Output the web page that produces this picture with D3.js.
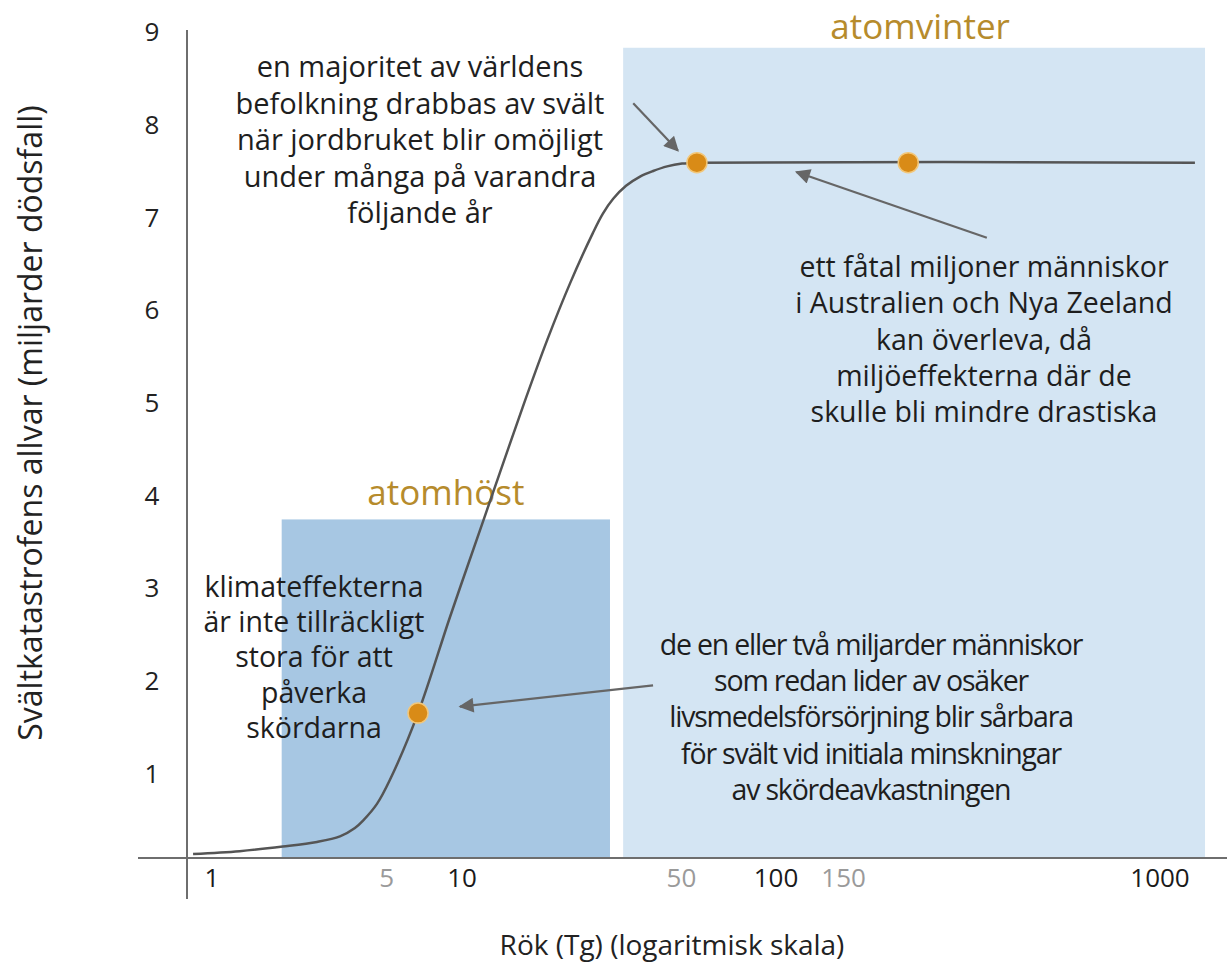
<!DOCTYPE html>
<meta charset="utf-8">
<style>
  body { margin: 0; background: #fff; }
  text { font-family: "Open Sans", "Noto Sans", sans-serif; }
</style>
<svg width="1227" height="964"></svg>
<script src="https://cdn.jsdelivr.net/npm/d3@7"></script>
<script>
  // curve: smoke (Tg) vs famine deaths (billions)
  var smoke  = [0.84, 1.29, 1.92, 2.63, 3.25, 3.73, 4.02, 4.57, 5.15, 6.67, 8.96, 11.7, 15.6, 18.7, 22.1, 26.1,
                28.1, 30.3, 33.3, 36.9, 40.6, 45.0, 50.2, 56.0, 1233];
  var deaths = [0.13, 0.16, 0.21, 0.26, 0.32, 0.41, 0.49, 0.67, 0.93, 1.65, 2.69, 3.73, 4.95, 5.68, 6.29, 6.83,
                7.04, 7.20, 7.34, 7.44, 7.50, 7.55, 7.58, 7.59, 7.59];
  // highlighted points
  var pointSmoke  = [6.67, 56, 221];
  var pointDeaths = [1.65, 7.59, 7.59];
  // shaded regions
  var regionNames = ["atomhöst", "atomvinter"];
  var regionFrom  = [1.9, 32.6];
  var regionTo    = [29.6, 1310];
  var regionTop   = [3.74, 8.83];
  // axis ticks
  var xTicks = [1, 5, 10, 50, 100, 150, 1000];
  var xTickMuted = [false, true, false, true, false, true, false];
  var yTicks = [1, 2, 3, 4, 5, 6, 7, 8, 9];
  // arrows: [fromSmoke, fromDeaths, toSmoke, toDeaths]
  var arrows = [
    [35.1, 8.23, 48.7, 7.72],
    [354, 6.78, 113, 7.49],
    [40.6, 1.95, 9.82, 1.72]
  ];

  var svg = d3.select("svg");
  var baseY = 858, axisX = 187;

  // the printed log axis is not evenly spaced per decade
  var xl = d3.scaleLinear().domain([0, 1, 2, 3]).range([212, 462, 776, 1160]);
  var x = function(v) { return xl(Math.log10(v)); };
  var y = d3.scaleLinear().domain([0, 9]).range([866, 32]);

  var regionFill = ["#a7c7e3", "#d4e5f3"];
  var titleGap = [14, 9];
  regionNames.forEach(function(n, i) {
    svg.append("rect")
      .attr("x", x(regionFrom[i]))
      .attr("y", y(regionTop[i]))
      .attr("width", x(regionTo[i]) - x(regionFrom[i]))
      .attr("height", baseY - y(regionTop[i]))
      .attr("fill", regionFill[i]);
    svg.append("text")
      .attr("x", (x(regionFrom[i]) + x(regionTo[i])) / 2 + (i == 0 ? 0 : 6))
      .attr("y", y(regionTop[i]) - titleGap[i])
      .attr("text-anchor", "middle")
      .attr("font-size", 35)
      .attr("fill", "#b68b2c")
      .text(n);
  });

  // axes
  svg.append("line").attr("x1", 138).attr("x2", 1227).attr("y1", baseY).attr("y2", baseY)
    .attr("stroke", "#6e6e6e").attr("stroke-width", 2);
  svg.append("line").attr("x1", axisX).attr("x2", axisX).attr("y1", 30).attr("y2", 899)
    .attr("stroke", "#6e6e6e").attr("stroke-width", 2);

  svg.selectAll(".yt").data(yTicks).enter().append("text")
    .attr("x", 152).attr("y", function(d) { return y(d); })
    .attr("dy", "0.36em").attr("text-anchor", "middle")
    .attr("font-size", 26).attr("fill", "#222")
    .text(function(d) { return d; });

  svg.selectAll(".xt").data(xTicks).enter().append("text")
    .attr("x", function(d) { return x(d); }).attr("y", 887)
    .attr("text-anchor", "middle").attr("font-size", 26)
    .attr("fill", function(d, i) { return xTickMuted[i] ? "#9a9a9a" : "#1a1a1a"; })
    .text(function(d) { return d; });

  svg.append("text").attr("x", 672).attr("y", 955).attr("text-anchor", "middle")
    .attr("font-size", 28).attr("fill", "#222").text("Rök (Tg) (logaritmisk skala)");
  svg.append("text").attr("transform", "translate(42,423) rotate(-90)")
    .attr("text-anchor", "middle").attr("font-size", 32).attr("fill", "#222")
    .text("Svältkatastrofens allvar (miljarder dödsfall)");

  // curve
  var line = d3.line().curve(d3.curveCatmullRom.alpha(0.5))
    .x(function(d, i) { return x(smoke[i]); })
    .y(function(d) { return y(d); });
  svg.append("path").datum(deaths).attr("d", line)
    .attr("fill", "none").attr("stroke", "#555").attr("stroke-width", 2.5);

  svg.selectAll(".pt").data(pointSmoke).enter().append("circle")
    .attr("cx", function(d) { return x(d); })
    .attr("cy", function(d, i) { return y(pointDeaths[i]); })
    .attr("r", 10).attr("fill", "#d98b17")
    .attr("stroke", "#f2c77a").attr("stroke-width", 1.5);

  // arrows
  svg.append("defs").append("marker").attr("id", "head")
    .attr("viewBox", "0 0 10 10").attr("refX", 9).attr("refY", 5)
    .attr("markerWidth", 19).attr("markerHeight", 15).attr("markerUnits", "userSpaceOnUse")
    .attr("orient", "auto")
    .append("path").attr("d", "M0,0L10,5L0,10z").attr("fill", "#666");
  arrows.forEach(function(a) {
    svg.append("line")
      .attr("x1", x(a[0])).attr("y1", y(a[1]))
      .attr("x2", x(a[2])).attr("y2", y(a[3]))
      .attr("stroke", "#666").attr("stroke-width", 2.2)
      .attr("marker-end", "url(#head)");
  });

  // annotation text blocks
  function block(cx, top, gap, lines, size, ls) {
    var t = svg.append("text").attr("text-anchor", "middle")
      .attr("font-size", size).attr("fill", "#1e1e1e")
      .attr("letter-spacing", ls || 0);
    lines.forEach(function(l, i) {
      t.append("tspan").attr("x", cx).attr("y", top + i * gap).text(l);
    });
  }
  block(420, 77, 36.5, ["en majoritet av världens", "befolkning drabbas av svält",
    "när jordbruket blir omöjligt", "under många på varandra", "följande år"], 29);
  block(984, 277, 36.3, ["ett fåtal miljoner människor", "i Australien och Nya Zeeland",
    "kan överleva, då", "miljöeffekterna där de", "skulle bli mindre drastiska"], 28.5);
  block(314, 597, 35.2, ["klimateffekterna", "är inte tillräckligt", "stora för att",
    "påverka", "skördarna"], 28.5);
  block(871, 655, 36.2, ["de en eller två miljarder människor", "som redan lider av osäker",
    "livsmedelsförsörjning blir sårbara", "för svält vid initiala minskningar",
    "av skördeavkastningen"], 28.5, -1.2);
</script>
